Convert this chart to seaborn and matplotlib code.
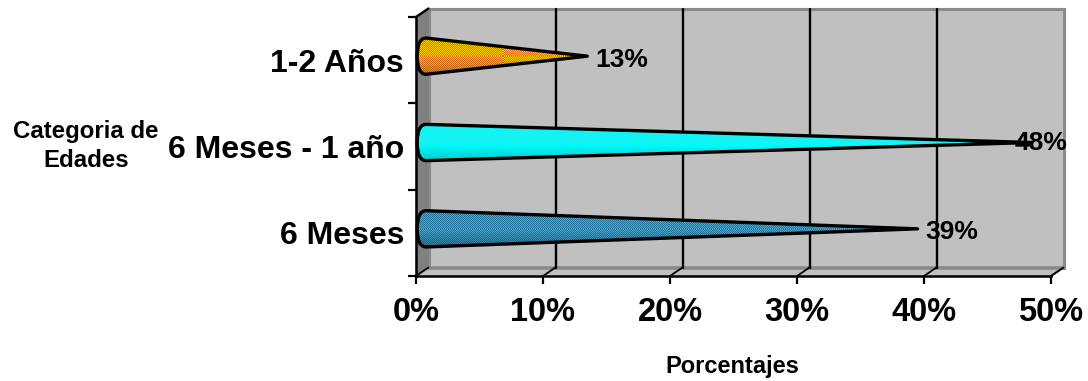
import numpy as np
import pandas as pd
import matplotlib
matplotlib.use("Agg")
import matplotlib.pyplot as plt
from matplotlib.path import Path
from matplotlib.patches import PathPatch, Polygon
from matplotlib.colors import to_rgb
import seaborn as sns

categorias = ["1-2 Años", "6 Meses - 1 año", "6 Meses"]
porcentajes = [13, 48, 39]
etiquetas_x = ["0%", "10%", "20%", "30%", "40%", "50%"]
valores_x = [0, 10, 20, 30, 40, 50]

W, H = 1088, 381
sns.set_theme(style="white")
plt.rcParams["font.family"] = ["Liberation Sans", "DejaVu Sans"]

fig = plt.figure(figsize=(W / 100, H / 100), dpi=100, facecolor="white")
ax = fig.add_axes([416 / W, 1 - 276 / H, 635 / W, 259 / H])
df = pd.DataFrame({"categoria": categorias, "porcentaje": porcentajes})

# Hidden bars give each cone its extent on the category scale
sns.barplot(data=df, x="porcentaje", y="categoria", order=categorias, orient="h",
            width=0.42, ax=ax, color="white")
barras = list(ax.patches)
for barra in barras:
    barra.set_visible(False)
ax.set_xlim(0, 50)
ax.set_ylim(2.5, -0.5)

# Depth of the 3D box, in data units
px_x = 50 / 635
px_y = 3 / 259
dx, dy = 12.5 * px_x, 8.5 * px_y

ax.patch.set_visible(False)
extra = dict(clip_on=False)
wall = "#c0c0c0"
edge = "#8a8a8a"
ax.add_patch(Polygon([(dx, 2.5 - dy), (50 + dx, 2.5 - dy), (50 + dx, -0.5 - dy), (dx, -0.5 - dy)],
                     fc=wall, ec=edge, lw=2.2, zorder=0, **extra))
ax.add_patch(Polygon([(0, 2.5), (dx, 2.5 - dy), (dx, -0.5 - dy), (0, -0.5)],
                     fc="#808080", ec="#808080", lw=0.5, zorder=0.2, **extra))
ax.add_patch(Polygon([(0, 2.5), (50, 2.5), (50 + dx, 2.5 - dy), (dx, 2.5 - dy)],
                     fc="#c0c0c0", ec="none", zorder=0.2, **extra))
ax.plot([dx, 50 + dx], [2.5 - dy, 2.5 - dy], color=edge, lw=2.6, zorder=0.3, **extra)
ax.plot([50, 50 + dx], [2.5, 2.5 - dy], color=edge, lw=1.6, zorder=0.3, **extra)

# Gridlines on the back wall, each with its short foot across the floor
for v in valores_x[1:-1]:
    ax.plot([v + dx, v + dx], [2.5 - dy, -0.5 - dy], color="black", lw=1.7, zorder=0.5, **extra)
for v in valores_x:
    ax.plot([v, v + dx], [2.5, 2.5 - dy], color="black", lw=1.3, zorder=0.6, **extra)
ax.plot([0, dx], [-0.5, -0.5 - dy], color="black", lw=1.7, zorder=0.6, **extra)

# Two alternating dither colours per cone, shaded from top to bottom
estilos = {
    "1-2 Años": ("#ffcc00", "#e06a10", "#8a5a10"),
    "6 Meses - 1 año": ("#00ffff", "#10f0f0", "#10a8a8"),
    "6 Meses": ("#4ea6cc", "#23749c", "#17506e"),
}


def textura(c_a, c_b, c_sombra, alto=72, ancho=1300):
    a, b, s = map(np.array, (to_rgb(c_a), to_rgb(c_b), to_rgb(c_sombra)))
    yy, xx = np.mgrid[0:alto, 0:ancho]
    t = (yy / (alto - 1))[..., None]
    mezcla = ((xx + yy) % 2 == 0)[..., None]
    base = np.where(mezcla, a, b)
    sombra = np.clip((t - 0.55) / 0.45, 0, 1) * 0.6
    return base * (1 - sombra) + s * sombra


# Labels that would run past the box are pulled back over the cone's tip
limite_etiqueta = 599 * px_x

for barra, cat, val in zip(barras, categorias, porcentajes):
    h = barra.get_height()
    yc = barra.get_y() + h / 2 - 4 * px_y
    top, bot = yc - h / 2, yc + h / 2
    punta = val + dx / 2
    r = 9 * px_x
    xb = 1.2 * px_x
    verts = [(xb + r, top), (punta, yc), (xb + r, bot),
             (xb, bot), (xb, yc), (xb, top), (xb + r, top), (xb + r, top)]
    codes = [Path.MOVETO, Path.LINETO, Path.LINETO,
             Path.CURVE3, Path.CURVE3, Path.CURVE3, Path.CURVE3, Path.CLOSEPOLY]
    trazo = PathPatch(Path(verts, codes), fc="none", ec="black", lw=2.4, zorder=3,
                      clip_on=False, joinstyle="round")
    ax.add_patch(trazo)
    alto_px = int(round(h / px_y))
    ancho_px = int(round((punta - xb) / px_x))
    img = ax.imshow(textura(*estilos[cat], alto=alto_px, ancho=ancho_px),
                    extent=(xb, punta, bot, top), aspect="auto",
                    interpolation="nearest", zorder=2)
    img.set_clip_path(trazo)
    x_txt = punta + 8 * px_x
    y_txt = yc + 3.5 * px_y
    if x_txt > limite_etiqueta:
        x_txt = limite_etiqueta
        y_txt = yc + 0.5 * px_y
    ax.text(x_txt, y_txt, f"{val}%", ha="left", va="center",
            fontsize=19, fontweight="bold", color="black", zorder=4, clip_on=False)

ax.set_xlim(0, 50)
ax.set_ylim(2.5, -0.5)

# Category labels sit between the tick marks, which fall on the boundaries
ax.set_yticks(range(len(categorias)), categorias)
ax.set_yticks(np.arange(-0.5, len(categorias)), minor=True)
ax.tick_params(axis="y", which="major", length=0, pad=8.5, labelsize=23, labelcolor="black")
ax.tick_params(axis="y", which="minor", left=True, length=6, width=1.6, color="black")
for t in ax.get_yticklabels():
    t.set_fontweight("bold")
ax.set_xticks(valores_x, etiquetas_x)
ax.tick_params(axis="x", bottom=True, length=6, width=1.6, color="black", pad=9, labelsize=23.5, labelcolor="black")
for t in ax.get_xticklabels():
    t.set_fontweight("bold")

for lado in ("top", "right"):
    ax.spines[lado].set_visible(False)
for lado in ("left", "bottom"):
    ax.spines[lado].set_visible(True)
    ax.spines[lado].set_color("black")
    ax.spines[lado].set_linewidth(1.8)
    ax.spines[lado].set_zorder(5)

ax.set_xlabel("")
ax.set_ylabel("")
fig.text(732 / W, 1 - 366 / H, "Porcentajes", ha="center", va="center", fontsize=17, fontweight="bold", color="black")
fig.text(86 / W, 1 - 146 / H, "Categoria de\nEdades", ha="center", va="center", fontsize=17.3,
         fontweight="bold", color="black", linespacing=1.38)

fig.savefig("out.png", dpi=100, facecolor="white")
